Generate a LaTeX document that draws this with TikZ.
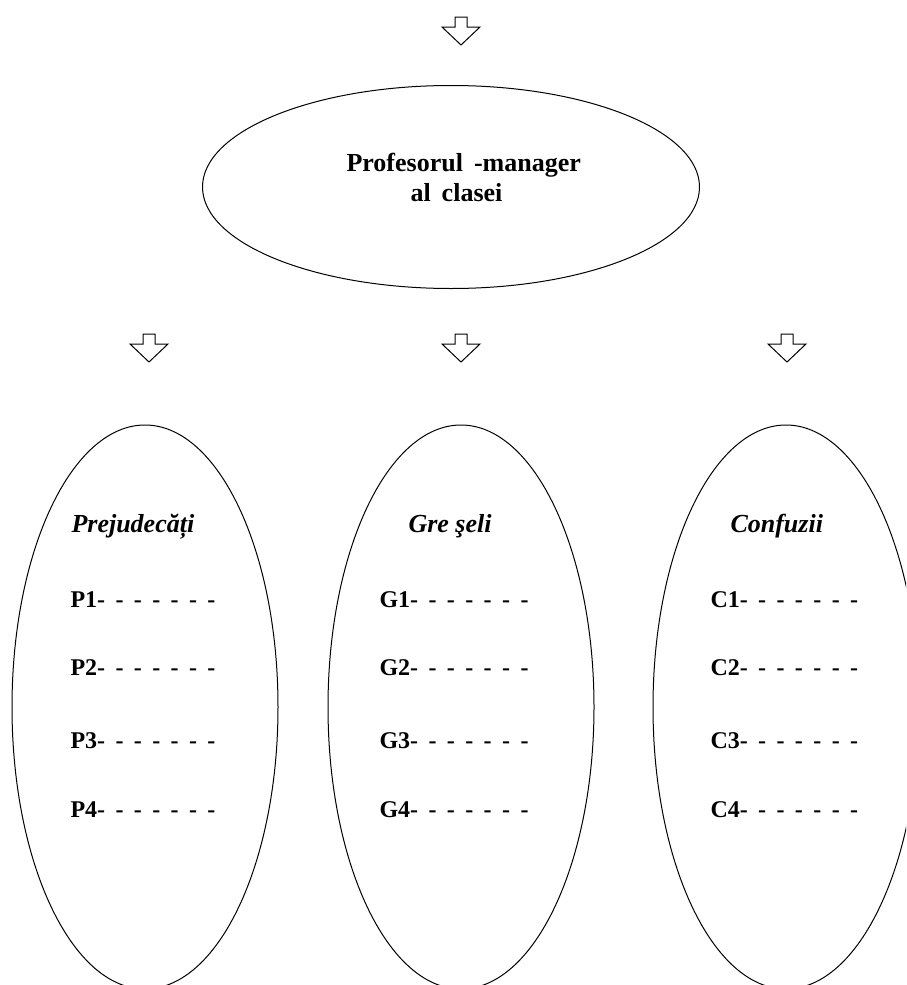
\documentclass[tikz,border=0pt]{standalone}
\usepackage{fontspec}
\setmainfont{Liberation Serif}
\usetikzlibrary{positioning,shapes.geometric}

\begin{document}
\begin{tikzpicture}[
  x=0.5pt, y=-0.5pt,
  line width=0.5pt,
  oval/.style={draw, ellipse, inner sep=0pt},
  colhead/.style={anchor=base west, inner sep=0pt, font={\fontsize{13}{15}\selectfont\bfseries\itshape}},
  item/.style={anchor=base west, inner sep=0pt, font={\fontsize{12}{14}\selectfont\bfseries\spaceskip 5.2pt\relax}},
  toptext/.style={anchor=base west, inner sep=0pt, font={\fontsize{13}{15}\selectfont\bfseries\spaceskip 5.5pt\relax}},
  pics/downarrow/.style={code={
    \draw[line join=miter] (-6,0) -- (6,0) -- (6,10) -- (19,10) -- (0,28)
      -- (-19,10) -- (-6,10) -- cycle;}}
]

%% ── Page frame (ovals run off the bottom and right edge) ─────────────
\useasboundingbox (0,0) rectangle (906,985);
\clip (0,0) rectangle (906,985);

%% ── Column x-positions ───────────────────────────────────────────────
\def\xP{145}    % Prejudecati
\def\xG{461}    % Greseli
\def\xC{786}    % Confuzii

%% ── Top block arrow and manager oval ─────────────────────────────────
\pic at (461,17) {downarrow};
\node[oval, minimum width=248.5pt, minimum height=101.5pt] (mgr) at (451,187) {};
\node[toptext] (mgrA) at (346,171) {Profesorul -manager};
\node[toptext] (mgrB) at (410,201) {al clasei};

%% ── Block arrows above the three columns ─────────────────────────────
\pic at (\xP+4,334) {downarrow};
\pic at (\xG,334) {downarrow};
\pic at (\xC+1,334) {downarrow};

%% ── Column ovals ─────────────────────────────────────────────────────
\node[oval, minimum width=133pt, minimum height=282pt] (ovP) at (\xP,707) {};
\node[oval, minimum width=133pt, minimum height=282pt] (ovG) at (\xG,707) {};
\node[oval, minimum width=133pt, minimum height=282pt] (ovC) at (\xC,707) {};

%% ── Column headings ──────────────────────────────────────────────────
\node[colhead] (hP) at (71,532) {Prejudecăți};
\node[colhead] (hG) at (408,532) {Gre şeli};
\node[colhead] (hC) at (730,532) {Confuzii};

%% ── Prejudecati items ────────────────────────────────────────────────
\node[item] (P1) at (70,607) {P1- - - - - - -};
\node[item] (P2) at (70,675) {P2- - - - - - -};
\node[item] (P3) at (70,748) {P3- - - - - - -};
\node[item] (P4) at (70,817) {P4- - - - - - -};

%% ── Greseli items ────────────────────────────────────────────────────
\node[item] (G1) at (379,607) {G1- - - - - - -};
\node[item] (G2) at (379,675) {G2- - - - - - -};
\node[item] (G3) at (379,748) {G3- - - - - - -};
\node[item] (G4) at (379,817) {G4- - - - - - -};

%% ── Confuzii items ───────────────────────────────────────────────────
\node[item] (C1) at (710,607) {C1- - - - - - -};
\node[item] (C2) at (710,675) {C2- - - - - - -};
\node[item] (C3) at (710,748) {C3- - - - - - -};
\node[item] (C4) at (710,817) {C4- - - - - - -};

\end{tikzpicture}
\end{document}
